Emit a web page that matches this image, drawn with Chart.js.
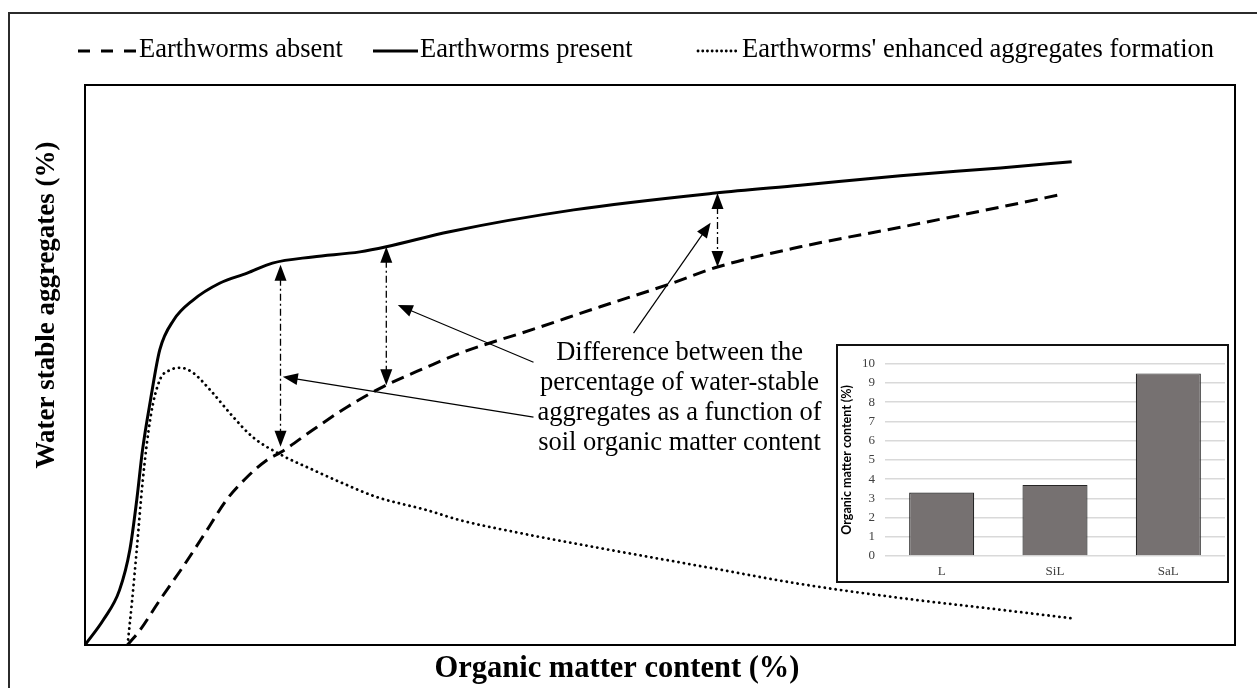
<!DOCTYPE html>
<html>
<head>
<meta charset="utf-8">
<script src="https://cdn.jsdelivr.net/npm/chart.js@4.4.1/dist/chart.umd.min.js"></script>
<style>
  html, body { margin: 0; padding: 0; background: #fff; }
  #wrap { position: relative; width: 1257px; height: 688px; overflow: hidden; }
  #insetBox { position: absolute; left: 836px; top: 344px; width: 393px; height: 239px;
              border: 2px solid #111; box-sizing: border-box; background: #fff; }
</style>
</head>
<body>
<div id="wrap">
  <canvas id="main" width="1257" height="688"></canvas>
  <div id="insetBox"><canvas id="inset" width="389" height="235"></canvas></div>
</div>
<script>
const SERIF = "'Liberation Serif', 'Times New Roman', serif";

// main chart, arbitrary units (no ticks shown in the figure)
const dashX  = [3.7, 4.8, 6.5, 8.5, 10.6, 12.3, 14.1, 15.8, 17.1, 19.8, 22.8, 25.9, 29.7, 32.6, 39.0, 44.8, 50.9, 55.0, 62.2, 70.9, 79.6, 85.0];
const dashY  = [0, 2.7, 8.0, 13.9, 20.5, 25.9, 30.0, 33.0, 34.5, 38.4, 42.5, 46.1, 49.6, 52.1, 56.4, 60.4, 64.5, 67.5, 71.1, 74.6, 78.2, 80.5];

const solidX = [0, 1.6, 3.0, 3.9, 4.5, 5.0, 5.7, 6.5, 7.7, 9.4, 11.7, 14.1, 16.3, 19.8, 23.9, 26.2, 31.7, 42.5, 54.8, 62.2, 70.9, 79.6, 85.8];
const solidY = [0, 4.5, 9.8, 17.0, 25.9, 34.8, 43.8, 52.7, 58.0, 61.6, 64.6, 66.4, 68.2, 69.3, 70.2, 71.1, 73.8, 77.7, 80.7, 82.1, 83.8, 85.2, 86.3];

const dotX   = [3.7, 4.1, 4.5, 5.0, 5.7, 6.5, 7.4, 8.3, 9.4, 10.9, 12.9, 14.6, 17.1, 19.8, 22.4, 25.4, 29.7, 32.6, 37.8, 44.8, 53.5, 62.2, 70.9, 79.6, 85.7];
const dotY   = [0, 8.0, 17.0, 28.9, 40.7, 47.3, 49.1, 49.5, 48.6, 45.5, 40.7, 37.1, 33.9, 31.3, 28.9, 26.4, 24.1, 22.3, 20.0, 17.3, 14.1, 10.9, 8.4, 6.3, 4.8];

const seriesNames = ['Earthworms absent', 'Earthworms present', "Earthworms' enhanced aggregates formation"];

// difference arrows (x, top on solid curve, bottom on dashed curve)
const gapX      = [17.0, 26.2, 55.0];
const gapTop    = [67.9, 71.1, 80.7];
const gapBottom = [35.4, 46.4, 67.5];

// pointer lines from the note to the arrows
const pointerFrom = [[47.7, 55.7], [39.0, 50.5], [39.0, 40.7]];
const pointerTo   = [[54.4, 75.4], [27.2, 60.7], [17.2, 47.9]];

const noteLines = ['Difference between the', 'percentage of water-stable', 'aggregates as a function of', 'soil organic matter content'];
const noteAt = [51.7, 52.1];

const xTitle = 'Organic matter content (%)';
const yTitle = 'Water stable aggregates (%)';

// inset bar chart
const soilTypes = ['L', 'SiL', 'SaL'];
const soilOM    = [3.3, 3.7, 9.5];

// legend layout: swatch start, swatch end, text start (px)
const legendPos = [[78, 137, 139], [373, 418, 420], [698, 740, 742]];

function pts(xs, ys) {
     return xs.map((x, i) => ({ x: x, y: ys[i] }));
}

function head(ctx, tx, ty, fx, fy, len, half) {
     const a = Math.atan2(ty - fy, tx - fx);
     const bx = tx - len * Math.cos(a), by = ty - len * Math.sin(a);
     ctx.beginPath();
     ctx.moveTo(tx, ty);
     ctx.lineTo(bx + half * Math.sin(a), by - half * Math.cos(a));
     ctx.lineTo(bx - half * Math.sin(a), by + half * Math.cos(a));
     ctx.closePath();
     ctx.fill();
}

const decorations = {
     id: 'decorations',
     afterDraw(chart) {
          const { ctx, chartArea: a, scales: { x, y } } = chart;
          ctx.save();

          // outer frame (runs off the right and bottom of the picture)
          ctx.strokeStyle = '#2b2b2b';
          ctx.lineWidth = 2;
          ctx.beginPath();
          ctx.moveTo(9, 700); ctx.lineTo(9, 13); ctx.lineTo(1270, 13);
          ctx.stroke();

          // plot frame
          ctx.strokeStyle = '#000';
          ctx.lineWidth = 2;
          ctx.strokeRect(a.left, a.top, a.right - a.left, a.bottom - a.top);

          // legend, drawn with each dataset's own line style
          ctx.fillStyle = '#000';
          ctx.textBaseline = 'middle';
          ctx.textAlign = 'left';
          ctx.font = '26.5px ' + SERIF;
          chart.data.datasets.forEach((ds, i) => {
               const [x0, x1, tx] = legendPos[i];
               ctx.save();
               ctx.lineWidth = ds.borderWidth;
               ctx.lineCap = ds.borderCapStyle || 'butt';
               ctx.setLineDash(ds.legendDash || ds.borderDash || []);
               ctx.beginPath();
               ctx.moveTo(x0, 51);
               ctx.lineTo(x1, 51);
               ctx.stroke();
               ctx.restore();
               ctx.fillText(ds.label, tx, 50);
          });

          // axis titles
          ctx.textAlign = 'center';
          ctx.font = 'bold 30.5px ' + SERIF;
          ctx.fillText(xTitle, 617, 669);
          ctx.save();
          ctx.translate(47, 305);
          ctx.rotate(-Math.PI / 2);
          ctx.font = 'bold 27px ' + SERIF;
          ctx.fillText(yTitle, 0, 0);
          ctx.restore();

          // double arrows between the curves
          ctx.lineWidth = 1.3;
          gapX.forEach((gx, i) => {
               const px = x.getPixelForValue(gx);
               const t = y.getPixelForValue(gapTop[i]);
               const b = y.getPixelForValue(gapBottom[i]);
               ctx.setLineDash([7, 3, 2, 3]);
               ctx.beginPath();
               ctx.moveTo(px, t + 14);
               ctx.lineTo(px, b - 14);
               ctx.stroke();
               ctx.setLineDash([]);
               head(ctx, px, t, px, b, 16, 6);
               head(ctx, px, b, px, t, 16, 6);
          });

          // pointers
          ctx.lineWidth = 1.2;
          pointerFrom.forEach((f, i) => {
               const fx = x.getPixelForValue(f[0]), fy = y.getPixelForValue(f[1]);
               const tx = x.getPixelForValue(pointerTo[i][0]), ty = y.getPixelForValue(pointerTo[i][1]);
               const ang = Math.atan2(ty - fy, tx - fx);
               ctx.beginPath();
               ctx.moveTo(fx, fy);
               ctx.lineTo(tx - 10 * Math.cos(ang), ty - 10 * Math.sin(ang));
               ctx.stroke();
               head(ctx, tx, ty, fx, fy, 15, 6);
          });

          // note
          ctx.font = '26.5px ' + SERIF;
          const nx = x.getPixelForValue(noteAt[0]);
          const ny = y.getPixelForValue(noteAt[1]);
          noteLines.forEach((line, i) => {
               ctx.fillText(line, nx, ny + i * 30);
          });

          ctx.restore();
     }
};

new Chart(document.getElementById('main').getContext('2d'), {
     type: 'line',
     data: {
          datasets: [{
               label: seriesNames[0],
               data: pts(dashX, dashY),
               borderColor: '#000',
               backgroundColor: '#000',
               borderWidth: 3,
               borderDash: [13, 7],
               legendDash: [12, 11]
          }, {
               label: seriesNames[1],
               data: pts(solidX, solidY),
               borderColor: '#000',
               backgroundColor: '#000',
               borderWidth: 3
          }, {
               label: seriesNames[2],
               data: pts(dotX, dotY),
               borderColor: '#000',
               backgroundColor: '#000',
               borderWidth: 2.8,
               borderDash: [0.1, 5.4],
               legendDash: [0.1, 4.6],
               borderCapStyle: 'round'
          }]
     },
     options: {
          responsive: false,
          animation: false,
          layout: { padding: { left: 85, right: 22, top: 85, bottom: 43 } },
          elements: {
               point: { radius: 0 },
               line: { cubicInterpolationMode: 'monotone', fill: false }
          },
          plugins: {
               legend: { display: false },
               tooltip: { enabled: false }
          },
          scales: {
               x: { type: 'linear', min: 0, max: 100, display: false },
               y: { min: 0, max: 100, display: false }
          }
     },
     plugins: [decorations]
});

new Chart(document.getElementById('inset').getContext('2d'), {
     type: 'bar',
     data: {
          labels: soilTypes,
          datasets: [{
               data: soilOM,
               backgroundColor: '#767171',
               borderColor: '#262626',
               borderWidth: 1.2,
               barPercentage: 0.574,
               categoryPercentage: 1
          }]
     },
     options: {
          responsive: false,
          animation: false,
          layout: { padding: { top: 8, right: 2, left: 0, bottom: 0 } },
          plugins: { legend: { display: false }, tooltip: { enabled: false } },
          scales: {
               x: {
                    grid: { display: false, drawTicks: false },
                    border: { display: false },
                    ticks: { color: '#404040', padding: 8, font: { family: SERIF, size: 13 } },
                    afterFit: s => { s.height = 25; }
               },
               y: {
                    min: 0,
                    max: 10,
                    ticks: { stepSize: 1, padding: 10, color: '#404040', font: { family: SERIF, size: 13 } },
                    grid: { color: '#d9d9d9', lineWidth: 1.5, drawTicks: false },
                    border: { display: false },
                    title: {
                         display: true,
                         text: 'Organic matter content (%)',
                         color: '#000',
                         font: { family: "Lato, 'Liberation Sans', sans-serif", weight: 'bold', size: 12.5 },
                         padding: { top: 1, bottom: 0 }
                    },
                    afterFit: s => { s.width = 47; }
               }
          }
     }
});
</script>
</body>
</html>
